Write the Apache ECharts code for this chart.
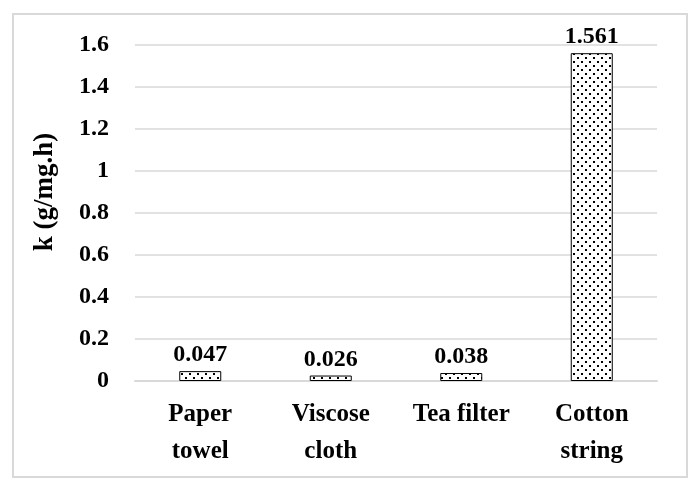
<!DOCTYPE html>
<html><head><meta charset="utf-8">
<script src="https://cdn.jsdelivr.net/npm/echarts@6/dist/echarts.min.js"></script>
<style>html,body{margin:0;padding:0;background:#fff}#c{width:699px;height:483px}</style>
</head><body><div id="c"></div>
<script>
const categories = ['Paper\ntowel', 'Viscose\ncloth', 'Tea filter', 'Cotton\nstring'];
const values = [0.047, 0.026, 0.038, 1.561];
const yTicks = [0, 0.2, 0.4, 0.6, 0.8, 1, 1.2, 1.4, 1.6];
const yName = 'k (g/mg.h)';

function dotPattern() {
  const c = document.createElement('canvas');
  c.width = 8; c.height = 8;
  const g = c.getContext('2d');
  g.fillStyle = '#fff'; g.fillRect(0, 0, 8, 8);
  g.fillStyle = '#000';
  g.fillRect(1, 1, 2, 2);
  g.fillRect(5, 5, 2, 2);
  return c;
}
const FONT = '"Liberation Serif", "DejaVu Serif", serif';
const chart = echarts.init(document.getElementById('c'), null, {renderer: 'canvas'});
chart.setOption({
  animation: false,
  backgroundColor: '#fff',
  graphic: [{type: 'rect', shape: {x: 13, y: 14, width: 674, height: 463}, style: {fill: 'none', stroke: '#d9d9d9', lineWidth: 2}}],
  grid: {left: 135, right: 42, top: 45, bottom: 102},
  xAxis: {
    type: 'category', data: categories,
    axisLine: {lineStyle: {color: '#d9d9d9', width: 2}},
    axisTick: {show: false},
    axisLabel: {color: '#000', fontFamily: FONT, fontWeight: 'bold', fontSize: 25, lineHeight: 37, margin: 15, interval: 0}
  },
  yAxis: {
    type: 'value', min: yTicks[0], max: yTicks[yTicks.length - 1], interval: 0.2,
    name: yName, nameLocation: 'middle', nameGap: 76, nameRotate: 90,
    nameTextStyle: {color: '#000', fontFamily: FONT, fontWeight: 'bold', fontSize: 27, padding: [0, 0, 0, 42]},
    axisLine: {show: false}, axisTick: {show: false},
    splitLine: {lineStyle: {color: '#d9d9d9', width: 1.5}},
    axisLabel: {color: '#000', fontFamily: FONT, fontWeight: 'bold', fontSize: 24, margin: 26,
      formatter: v => String(Math.round(v * 10) / 10)}
  },
  series: [{
    type: 'bar', data: values, barWidth: 42,
    itemStyle: {color: {image: dotPattern(), repeat: 'repeat'}, borderColor: '#000', borderWidth: 1},
    label: {show: true, position: 'top', distance: 4, color: '#000', fontFamily: FONT, fontWeight: 'bold', fontSize: 24,
      formatter: p => p.value.toFixed(3)}
  }]
});
</script></body></html>
